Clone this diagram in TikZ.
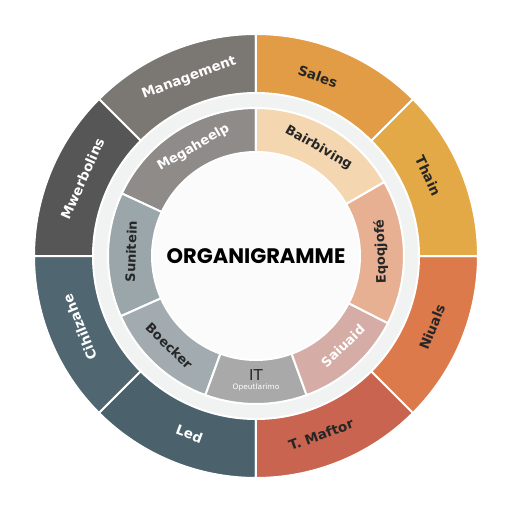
\documentclass[tikz,border=0pt]{standalone}
\usepackage{fontspec}
\setmainfont{DejaVu Sans}
\newfontfamily\titlefont{Poppins}
\definecolor{mgmt}{HTML}{7B7773}
\definecolor{mwer}{HTML}{575656}
\definecolor{cihi}{HTML}{506771}
\definecolor{led}{HTML}{4B626D}
\definecolor{maftor}{HTML}{C8644F}
\definecolor{niuals}{HTML}{DC7A4C}
\definecolor{thain}{HTML}{E4A947}
\definecolor{sales}{HTML}{E29C45}
\definecolor{megah}{HTML}{8E8B89}
\definecolor{sunit}{HTML}{9BA6AA}
\definecolor{boeck}{HTML}{A2ACB0}
\definecolor{itgrey}{HTML}{A9A9A9}
\definecolor{saiua}{HTML}{D5ACA6}
\definecolor{eqoq}{HTML}{E8B093}
\definecolor{bairb}{HTML}{F4D7B1}
\definecolor{darktext}{HTML}{262626}
\definecolor{gapring}{HTML}{F1F3F3}
\tikzset{
  seg/.style={draw=white, line width=2pt},
  ringlabel/.style={font=\bfseries\fontsize{13.5}{14}\selectfont, inner sep=0pt},
  innerlabel/.style={font=\bfseries\fontsize{13}{14}\selectfont, inner sep=0pt},
}
% annular sector: inner radius, outer radius, start, end, colour
\newcommand{\ringseg}[5]{%
  \filldraw[seg, fill=#5] (#3:#2pt) arc[start angle=#3, end angle=#4, radius=#2pt]
    -- (#4:#1pt) arc[start angle=#4, end angle=#3, radius=#1pt] -- cycle;}

\begin{document}
\begin{tikzpicture}
    \useasboundingbox (-256pt,-256pt) rectangle (256pt,256pt);

    \fill[gray!25] (0,0) circle (222.5pt);
    \fill[gapring] (0,0) circle (164pt);
    \fill[white!97!gray] (0,0) circle (104pt);

    % outer ring
    \foreach \a/\b/\col in {90/135/mgmt, 135/180/mwer, 180/225/cihi, 225/270/led,
                            270/315/maftor, 315/360/niuals, 0/45/thain, 45/90/sales}
      \ringseg{163}{222}{\a}{\b}{\col};

    % inner ring
    \foreach \a/\b/\col in {90/155/megah, 155/204/sunit, 204/250/boeck, 250/290/itgrey,
                            290/333/saiua, -27/30/eqoq, 30/90/bairb}
      \ringseg{104}{148}{\a}{\b}{\col};

    \foreach \ang/\rot/\txt/\tc/\nm in {110.6/20.6/Management/white/mgmt,
        156/66/Mwerbolins/white/mwer, 202/112/Cihilzahe/white/cihi,
        249.5/-20.5/Led/white/led, 290/20/T. Maftor/darktext/maftor,
        338/68/Niuals/darktext/niuals, 25/-65/Thain/darktext/thain,
        71/-19/Sales/darktext/sales}
      \node[ringlabel, text=\tc, rotate=\rot] (o-\nm) at (\ang:190pt) {\txt};

    \foreach \ang/\rot/\txt/\tc/\nm in {120/30/Megaheelp/white/megah,
        178/88/Sunitein/darktext/sunit, 226/316/Boecker/darktext/boeck,
        314/44/Saiuaid/white/saiua, 2/92/Eqoqjofé/darktext/eqoq,
        60/-30/Bairbiving/darktext/bairb}
      \node[innerlabel, text=\tc, rotate=\rot] (i-\nm) at (\ang:125pt) {\txt};

    \node[font=\fontsize{15}{15}\selectfont, text=darktext, inner sep=0pt] (i-it) at (270:119pt) {IT};
    \node[font=\fontsize{7.5}{8}\selectfont, text=white, inner sep=0pt] (i-itsub) at (270:131pt) {Opeutlarimo};

    \node[font=\titlefont\bfseries\fontsize{21}{22}\selectfont] (title) at (0,0) {ORGANIGRAMME};
\end{tikzpicture}
\end{document}
